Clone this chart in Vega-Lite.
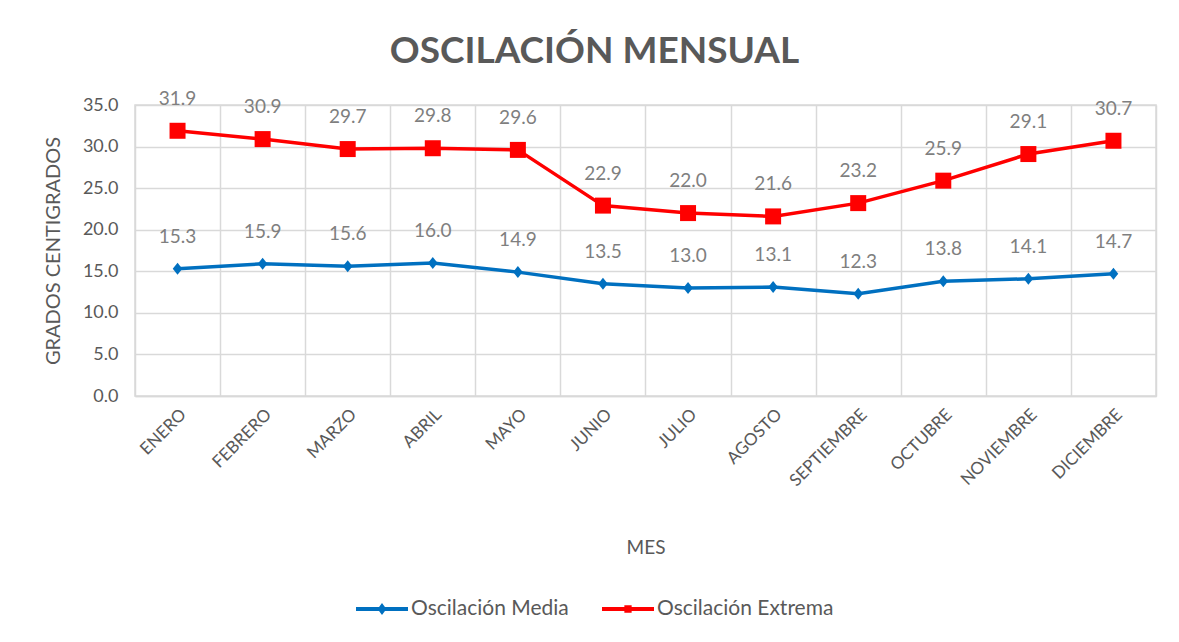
{
  "$schema": "https://vega.github.io/schema/vega-lite/v6.json",
  "width": 1021,
  "height": 291,
  "autosize": {"type": "none"},
  "padding": {"left": 135, "top": 105, "right": 23, "bottom": 246},
  "background": "white",
  "title": {
    "text": "OSCILACIÓN MENSUAL",
    "font": "Lato",
    "fontSize": 37,
    "fontWeight": "bold",
    "color": "#595959",
    "anchor": "middle",
    "frame": "group",
    "baseline": "alphabetic",
    "offset": -10,
    "dx": -51
  },
  "config": {
    "view": {"stroke": "#d9d9d9", "strokeWidth": 1.5},
    "font": "Lato"
  },
  "data": {
    "values": [
      {"mes": "ENERO", "serie": "Oscilación Media", "valor": 15.3},
      {"mes": "FEBRERO", "serie": "Oscilación Media", "valor": 15.9},
      {"mes": "MARZO", "serie": "Oscilación Media", "valor": 15.6},
      {"mes": "ABRIL", "serie": "Oscilación Media", "valor": 16.0},
      {"mes": "MAYO", "serie": "Oscilación Media", "valor": 14.9},
      {"mes": "JUNIO", "serie": "Oscilación Media", "valor": 13.5},
      {"mes": "JULIO", "serie": "Oscilación Media", "valor": 13.0},
      {"mes": "AGOSTO", "serie": "Oscilación Media", "valor": 13.1},
      {"mes": "SEPTIEMBRE", "serie": "Oscilación Media", "valor": 12.3},
      {"mes": "OCTUBRE", "serie": "Oscilación Media", "valor": 13.8},
      {"mes": "NOVIEMBRE", "serie": "Oscilación Media", "valor": 14.1},
      {"mes": "DICIEMBRE", "serie": "Oscilación Media", "valor": 14.7},
      {"mes": "ENERO", "serie": "Oscilación Extrema", "valor": 31.9},
      {"mes": "FEBRERO", "serie": "Oscilación Extrema", "valor": 30.9},
      {"mes": "MARZO", "serie": "Oscilación Extrema", "valor": 29.7},
      {"mes": "ABRIL", "serie": "Oscilación Extrema", "valor": 29.8},
      {"mes": "MAYO", "serie": "Oscilación Extrema", "valor": 29.6},
      {"mes": "JUNIO", "serie": "Oscilación Extrema", "valor": 22.9},
      {"mes": "JULIO", "serie": "Oscilación Extrema", "valor": 22.0},
      {"mes": "AGOSTO", "serie": "Oscilación Extrema", "valor": 21.6},
      {"mes": "SEPTIEMBRE", "serie": "Oscilación Extrema", "valor": 23.2},
      {"mes": "OCTUBRE", "serie": "Oscilación Extrema", "valor": 25.9},
      {"mes": "NOVIEMBRE", "serie": "Oscilación Extrema", "valor": 29.1},
      {"mes": "DICIEMBRE", "serie": "Oscilación Extrema", "valor": 30.7}
    ]
  },
  "encoding": {
    "x": {
      "field": "mes",
      "type": "nominal",
      "sort": ["ENERO","FEBRERO","MARZO","ABRIL","MAYO","JUNIO","JULIO","AGOSTO","SEPTIEMBRE","OCTUBRE","NOVIEMBRE","DICIEMBRE"],
      "scale": {"type": "band", "paddingInner": 0, "paddingOuter": 0},
      "axis": {
        "title": "MES",
        "titleFont": "Lato",
        "titleFontSize": 19,
        "titleFontWeight": "normal",
        "titleColor": "#595959",
        "titlePadding": 50,
        "labelAngle": -45,
        "labelFont": "Lato",
        "labelFontSize": 17,
        "labelColor": "#595959",
        "labelPadding": 10,
        "tickBand": "extent",
        "ticks": false,
        "tickSize": 0,
        "grid": true,
        "gridColor": "#d9d9d9",
        "gridWidth": 1.5,
        "domainColor": "#d9d9d9",
        "domainWidth": 1.5
      }
    },
    "y": {
      "field": "valor",
      "type": "quantitative",
      "scale": {"domain": [0, 35], "nice": false},
      "axis": {
        "title": "GRADOS CENTIGRADOS",
        "titleFont": "Lato",
        "titleFontSize": 20,
        "titleFontWeight": "normal",
        "titleColor": "#595959",
        "titlePadding": 19,
        "values": [0, 5, 10, 15, 20, 25, 30, 35],
        "format": ".1f",
        "labelFont": "Lato",
        "labelFontSize": 18,
        "labelColor": "#595959",
        "labelPadding": 17,
        "ticks": false,
        "tickSize": 0,
        "domain": false,
        "grid": true,
        "gridColor": "#d9d9d9",
        "gridWidth": 1.5
      }
    },
    "color": {
      "field": "serie",
      "type": "nominal",
      "scale": {"domain": ["Oscilación Media", "Oscilación Extrema"], "range": ["#0070C0", "#FF0000"]},
      "legend": {
        "title": null,
        "orient": "none",
        "legendX": 221,
        "legendY": 478,
        "direction": "horizontal",
        "labelFont": "Lato",
        "labelFontSize": 21,
        "labelColor": "#595959",
        "labelLimit": 400,
        "labelOffset": 3,
        "columnPadding": 33,
        "symbolSize": 2704,
        "encode": {
          "symbols": {
            "update": {
              "shape": {"signal": "datum.value === 'Oscilación Media' ? 'M-1,-0.075H1V0.075H-1Z M0,-0.23L0.17,0L0,0.23L-0.17,0Z' : 'M-1,-0.075H1V0.075H-1Z M-0.14,-0.14H0.14V0.14H-0.14Z'"},
              "fill": {"signal": "datum.value === 'Oscilación Media' ? '#0070C0' : '#FF0000'"},
              "stroke": {"value": "transparent"},
              "strokeWidth": {"value": 0},
              "opacity": {"value": 1}
            }
          }
        }
      }
    }
  },
  "layer": [
    {
      "mark": {"type": "line", "strokeWidth": 3.5}
    },
    {
      "transform": [{"filter": "datum.serie === 'Oscilación Media'"}],
      "mark": {"type": "point", "filled": true, "opacity": 1, "size": 256, "shape": "M0,-0.75L0.6,0L0,0.75L-0.6,0Z"}
    },
    {
      "transform": [{"filter": "datum.serie === 'Oscilación Extrema'"}],
      "mark": {"type": "point", "filled": true, "opacity": 1, "size": 256, "shape": "square"}
    },
    {
      "mark": {"type": "text", "dy": -32, "font": "Lato", "fontSize": 19, "baseline": "middle"},
      "encoding": {
        "text": {"field": "valor", "type": "quantitative", "format": ".1f"},
        "color": {"value": "#7f7f7f"}
      }
    }
  ]
}
